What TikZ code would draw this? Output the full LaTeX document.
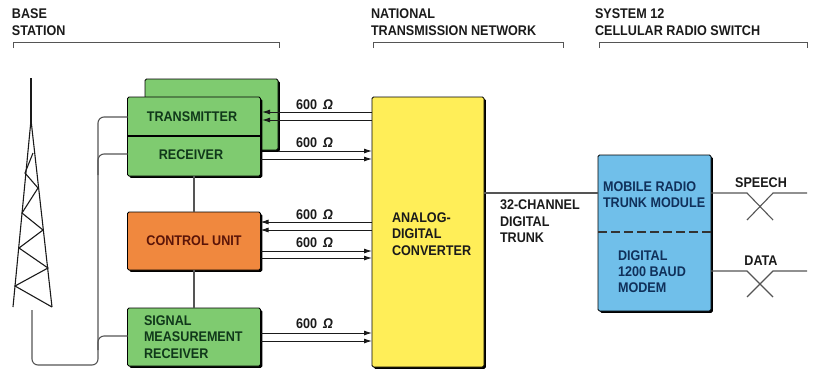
\documentclass[tikz,border=0pt]{standalone}
\usepackage{fontspec}
\setmainfont[FakeStretch=0.9]{Liberation Sans}
\usetikzlibrary{shadows,arrows.meta}
\definecolor{gbox}{HTML}{7FCB70}
\definecolor{obox}{HTML}{F0883E}
\definecolor{ybox}{HTML}{FFEE58}
\definecolor{bbox}{HTML}{70BFEA}
\definecolor{wire}{HTML}{555555}
\definecolor{ink}{HTML}{1A1A1A}
\definecolor{gtext}{HTML}{10381A}
\definecolor{otext}{HTML}{5A1408}
\definecolor{btext}{HTML}{10305A}
\tikzset{
  x=1pt,y=-1pt,
  every node/.style={inner sep=0pt,outer sep=0pt,font=\fontsize{14}{16.3}\selectfont\bfseries,text=ink},
  blockbox/.style={draw=black,line width=0.9pt,rounded corners=1.5pt,
    general shadow={shadow xshift=1.8pt,shadow yshift=-1.8pt,fill=black,rounded corners=1.5pt}},
  wireline/.style={draw=wire,line width=1.1pt,rounded corners=6pt},
  straightwire/.style={draw=wire,line width=1.1pt},
  sig/.style={draw=ink,line width=0.9pt},
  sigin/.style={sig,-{Latex[length=8pt,width=5pt]}},
  bracket/.style={draw=wire,line width=0.8pt},
  tower/.style={draw=ink,line width=1.1pt},
  head/.style={align=left,anchor=north west},
  ohm/.style={anchor=base west}
}
\newcommand{\ohmlabel}{600\hspace{6pt}\textit{Ω}}
\begin{document}
\begin{tikzpicture}
\useasboundingbox (0,0) rectangle (813,373);
% headers
\node[head] (h1) at (12,9) {BASE\\STATION};
\node[head] (h2) at (371,9) {NATIONAL\\TRANSMISSION NETWORK};
\node[head] (h3) at (595,9) {SYSTEM 12\\CELLULAR RADIO SWITCH};
\draw[bracket] (13,48) -- (13,42) -- (279,42) -- (279,48);
\draw[bracket] (373,48) -- (373,42) -- (563,42) -- (563,48);
\draw[bracket] (599,48) -- (599,42) -- (807,42) -- (807,48);
% tower
\coordinate (apex) at (31,78);
\coordinate (legL) at (13,307);
\coordinate (legR) at (52,307);
\draw[tower,line width=1.4pt] (apex) -- (31,125);
\draw[tower] (31,120) -- (legL);
\draw[tower] (31,120) -- (legR);
\draw[tower] (33,153) -- (25,173) -- (38,188) -- (22,213) -- (43,230) -- (19,248) -- (48,268) -- (15,286) -- (legR);
% blocks
\node[blockbox,fill=gbox,minimum width=133pt,minimum height=71pt] (back) at (211.5,114.5) {};
\node[blockbox,fill=gbox,minimum width=133pt,minimum height=79pt] (txrx) at (194,136.5) {};
\node[text=gtext] (tx) at (192,117) {TRANSMITTER};
\node[text=gtext] (rx) at (191,155) {RECEIVER};
\draw[draw=black,line width=1.2pt] (txrx.west |- 0,136) -- (txrx.east |- 0,136);
\node[blockbox,fill=obox,minimum width=133pt,minimum height=58pt,text=otext] (cu) at (194,241) {CONTROL UNIT};
\node[blockbox,fill=gbox,minimum width=133pt,minimum height=58pt] (sm) at (194,337) {};
\node[anchor=west,align=left,text=gtext] (smt) at (144,337) {SIGNAL\\MEASUREMENT\\RECEIVER};
\node[blockbox,fill=ybox,minimum width=112pt,minimum height=270pt] (adc) at (428,232) {};
\node[anchor=west,align=left] (adct) at (392,234) {ANALOG-\\DIGITAL\\CONVERTER};
\node[blockbox,fill=bbox,minimum width=113pt,minimum height=156pt] (mod) at (654.5,233) {};
\node[anchor=base west,text=btext] (m1) at (603,191) {MOBILE RADIO};
\node[anchor=base west,text=btext] (m2) at (603,207) {TRUNK MODULE};
\node[anchor=base west,text=btext] (m3) at (618,260) {DIGITAL};
\node[anchor=base west,text=btext] (m4) at (618,276) {1200 BAUD};
\node[anchor=base west,text=btext] (m5) at (618,292) {MODEM};
\draw[draw=black!80,line width=1.2pt,dash pattern=on 9pt off 4pt] (mod.west |- 0,232) -- (mod.east |- 0,232);
% antenna wiring
\coordinate (ant) at (32,310);
\draw[wireline] (txrx.west |- 0,117) -- (98,117) -- (98,365) -- (32,365) -- (ant);
\draw[wireline] (txrx.west |- 0,154) -- (98,154) -- (98,175);
\draw[wireline] (sm.west |- 0,336) -- (98,336) -- (98,350);
\draw[straightwire] (txrx.south) -- (cu.north);
\draw[straightwire] (cu.south) -- (sm.north);
% signal lines
\draw[sigin] (adc.west |- 0,112) -- (262,112);
\draw[sigin] (adc.west |- 0,120) -- (262,120);
\draw[sigin] (back.east |- 0,151) -- (adc.west |- 0,151);
\draw[sigin] (txrx.east |- 0,159) -- (adc.west |- 0,159);
\draw[sigin] (adc.west |- 0,222) -- (cu.east |- 0,222);
\draw[sigin] (adc.west |- 0,230) -- (cu.east |- 0,230);
\draw[sigin] (cu.east |- 0,251) -- (adc.west |- 0,251);
\draw[sigin] (cu.east |- 0,258) -- (adc.west |- 0,258);
\draw[sigin] (sm.east |- 0,333) -- (adc.west |- 0,333);
\draw[sigin] (sm.east |- 0,341) -- (adc.west |- 0,341);
\node[ohm] (o1) at (296,109) {\ohmlabel};
\node[ohm] (o2) at (296,147) {\ohmlabel};
\node[ohm] (o3) at (296,219) {\ohmlabel};
\node[ohm] (o4) at (296,247) {\ohmlabel};
\node[ohm] (o5) at (296,328) {\ohmlabel};
% trunk
\draw[straightwire] (adc.east |- 0,193) -- (mod.west |- 0,193);
\node[anchor=north west,align=left] (trk) at (500,200) {32-CHANNEL\\DIGITAL\\TRUNK};
% switches
\coordinate (s1) at (807,193);
\coordinate (s2) at (807,271);
\draw[straightwire] (mod.east |- 0,193) -- (747,193) -- (773,220);
\draw[straightwire] (747,220) -- (773,193) -- (s1);
\draw[straightwire] (mod.east |- 0,271) -- (747,271) -- (773,297);
\draw[straightwire] (747,297) -- (773,271) -- (s2);
\node[anchor=base] (sp) at (761,187) {SPEECH};
\node[anchor=base] (da) at (761,265) {DATA};
\end{tikzpicture}
\end{document}
